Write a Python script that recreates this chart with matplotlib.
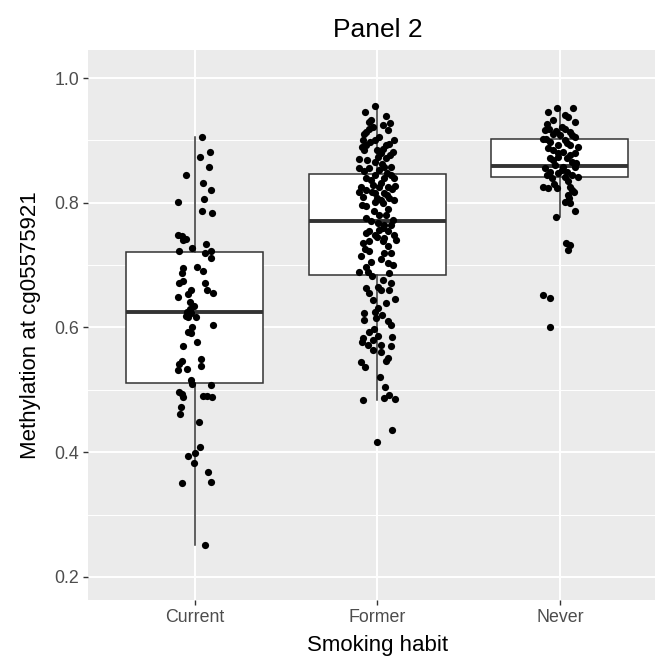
import numpy as np
import matplotlib.pyplot as plt

# smoking groups and their box summaries (methylation at cg05575921)
groups = ["Current", "Former", "Never"]
q1 = [0.511, 0.684, 0.842]
median = [0.625, 0.771, 0.859]
q3 = [0.721, 0.846, 0.902]
whis_lo = [0.251, 0.483, 0.777]
whis_hi = [0.905, 0.955, 0.952]

# individual samples: methylation values and horizontal jitter
current_y = [0.905, 0.882, 0.874, 0.858, 0.844, 0.831, 0.820, 0.806, 0.802, 0.787,
             0.784, 0.748, 0.746, 0.742, 0.740, 0.734, 0.727, 0.723, 0.723, 0.719,
             0.711, 0.695, 0.697, 0.690, 0.687, 0.672, 0.675, 0.671, 0.660, 0.660,
             0.654, 0.655, 0.649, 0.641, 0.635, 0.630, 0.625, 0.618, 0.616, 0.617,
             0.623, 0.604, 0.601, 0.593, 0.591, 0.571, 0.576, 0.547, 0.541, 0.549,
             0.539, 0.532, 0.534, 0.516, 0.509, 0.497, 0.493, 0.488, 0.507, 0.490,
             0.490, 0.489, 0.473, 0.461, 0.449, 0.409, 0.394, 0.398, 0.382, 0.368,
             0.351, 0.352, 0.251]
current_jit = [0.037, 0.080, 0.026, 0.077, -0.049, 0.042, 0.086, 0.049, -0.095, 0.037,
               0.095, -0.092, -0.073, -0.049, -0.064, 0.062, -0.015, -0.086, 0.088, 0.056,
               0.088, -0.067, 0.009, 0.045, -0.071, -0.089, -0.067, 0.053, 0.064, -0.024,
               -0.037, 0.100, -0.095, -0.029, -0.005, -0.027, -0.045, -0.051, -0.037, 0.005,
               -0.024, 0.097, -0.018, -0.037, -0.024, -0.067, 0.013, -0.073, -0.086, 0.033,
               0.035, -0.092, -0.042, -0.022, -0.018, -0.089, -0.073, -0.067, 0.086, 0.042,
               0.067, 0.092, -0.078, -0.081, 0.024, 0.027, -0.037, 0.002, -0.004, 0.070,
               -0.073, 0.088, 0.053]

former_y = [0.955, 0.945, 0.939, 0.933, 0.928,
            0.918, 0.913, 0.922, 0.901, 0.901, 0.893, 0.901, 0.895, 0.887, 0.882,
            0.885, 0.879, 0.870, 0.874, 0.871, 0.866, 0.856, 0.855, 0.858, 0.858,
            0.853, 0.844, 0.844, 0.839, 0.839, 0.839, 0.826, 0.828, 0.826, 0.826,
            0.827, 0.818, 0.820, 0.815, 0.810, 0.815, 0.804, 0.807, 0.802, 0.804,
            0.794, 0.799, 0.780, 0.781, 0.770, 0.767, 0.764, 0.764, 0.754, 0.756,
            0.754,
            0.751, 0.748, 0.743, 0.748, 0.735, 0.738, 0.738, 0.740, 0.722, 0.719,
            0.719, 0.714, 0.705, 0.703, 0.697, 0.689, 0.689, 0.687, 0.676, 0.663,
            0.665, 0.660, 0.660, 0.644, 0.645, 0.631, 0.623, 0.625, 0.612, 0.615,
            0.611, 0.604, 0.593, 0.583, 0.586, 0.585,
            0.577, 0.572, 0.580, 0.572, 0.571, 0.564, 0.560, 0.551, 0.546, 0.544,
            0.536, 0.520, 0.505, 0.492, 0.487, 0.486, 0.483, 0.436, 0.416,
            0.930, 0.925, 0.916, 0.910, 0.906, 0.897, 0.892, 0.889, 0.884, 0.877,
            0.868, 0.862, 0.851, 0.848, 0.836, 0.832, 0.822, 0.818, 0.812, 0.808,
            0.797, 0.790, 0.786, 0.775, 0.772, 0.760, 0.745, 0.731, 0.726, 0.710,
            0.700, 0.682, 0.671, 0.655, 0.640, 0.620, 0.598]
former_jit = [-0.016, -0.066, 0.049, -0.033, 0.071,
              -0.044, -0.062, -0.026, -0.081, -0.016, -0.062, 0.093, 0.066, 0.029, 0.084,
              -0.071, 0.020, -0.099, 0.002, 0.048, -0.016, -0.099, -0.044, 0.038, 0.075,
              0.011, -0.016, 0.075, -0.062, 0.038, 0.093, -0.089, -0.026, 0.011, 0.056,
              0.099, -0.099, -0.062, 0.038, -0.081, -0.016, 0.020, 0.066, -0.016, 0.093,
              -0.062, 0.029, 0.011, 0.048, -0.035, 0.002, 0.038, 0.075, -0.044, 0.011,
              0.056,
              -0.062, -0.016, 0.038, 0.093, -0.081, -0.044, 0.029, 0.102, -0.044, 0.038,
              0.075, -0.089, -0.035, 0.056, -0.062, -0.099, -0.053, 0.066, 0.029, -0.062,
              0.002, 0.020, 0.066, -0.026, 0.099, 0.002, -0.071, -0.016, -0.071, -0.007,
              0.056, 0.075, -0.044, -0.081, 0.002, 0.081,
              -0.084, -0.053, -0.022, 0.020, 0.075, -0.026, 0.020, 0.056, 0.048, -0.089,
              -0.066, 0.015, 0.040, 0.062, 0.038, 0.097, -0.081, 0.078, -0.005,
              -0.045, 0.030, 0.060, -0.075, 0.010, -0.040, 0.045, -0.085, 0.000, 0.070,
              -0.055, 0.025, -0.075, 0.050, -0.035, 0.020, 0.080, -0.030, 0.050, 0.000,
              -0.085, 0.060, -0.020, -0.060, 0.085, 0.030, -0.005, 0.060, -0.070, 0.020,
              0.085, -0.030, 0.075, -0.045, 0.045, 0.025, -0.020]

never_y = [0.952, 0.952, 0.945, 0.941, 0.933, 0.929,
           0.917, 0.919, 0.918, 0.913, 0.903, 0.911, 0.909, 0.906, 0.898, 0.901,
           0.890, 0.893, 0.893, 0.885, 0.882, 0.879, 0.871, 0.874, 0.871, 0.866,
           0.856, 0.861, 0.858, 0.858, 0.850, 0.847, 0.850, 0.844, 0.842, 0.839,
           0.842, 0.826, 0.826, 0.823, 0.824, 0.820, 0.812, 0.801, 0.799, 0.786,
           0.777, 0.735, 0.732, 0.724, 0.652, 0.648, 0.601,
           0.937, 0.926, 0.921, 0.915, 0.908, 0.902, 0.896, 0.888, 0.880, 0.876,
           0.868, 0.863, 0.853, 0.845, 0.835, 0.830, 0.818, 0.808]
never_jit = [-0.016, 0.071, -0.066, 0.027, -0.038, 0.082,
             -0.082, -0.059, 0.027, 0.055, -0.092, -0.037, 0.000, 0.082, -0.055, 0.027,
             0.100, -0.009, 0.055, -0.037, 0.018, 0.082, -0.055, -0.009, 0.037, 0.064,
             -0.082, -0.027, 0.018, 0.082, -0.055, -0.009, 0.037, 0.064, 0.100, -0.045,
             0.027, 0.055, -0.092, -0.064, -0.018, 0.064, 0.045, 0.027, 0.055, 0.082,
             -0.024, 0.031, 0.055, 0.045, -0.092, -0.055, -0.055,
             0.045, -0.070, 0.010, -0.020, 0.065, -0.075, 0.040, -0.065, -0.010, 0.055,
             -0.040, 0.090, 0.010, -0.070, 0.045, -0.030, 0.075, 0.050]

samples_y = [current_y, former_y, never_y]
samples_jit = [current_jit, former_jit, never_jit]

plt.rcParams['font.family'] = ['Liberation Sans', 'DejaVu Sans']

fig = plt.figure(figsize=(6.66, 6.61), dpi=100)
ax = fig.add_axes([0.1321, 0.0923, 0.8514, 0.8321])
ax.set_facecolor('#EBEBEB')
for s in ax.spines.values():
    s.set_visible(False)

positions = np.arange(1, len(groups) + 1)
stats = []
for i, g in enumerate(groups):
    stats.append({'label': g, 'q1': q1[i], 'med': median[i], 'q3': q3[i],
                  'whislo': whis_lo[i], 'whishi': whis_hi[i], 'fliers': []})

ax.bxp(stats, positions=positions, widths=0.75, patch_artist=True,
       showfliers=False, showcaps=False,
       boxprops=dict(facecolor='white', edgecolor='#333333', linewidth=1.1),
       medianprops=dict(color='#333333', linewidth=2.8, solid_capstyle='butt'),
       whiskerprops=dict(color='#333333', linewidth=1.1),
       zorder=2)

for i in range(len(groups)):
    xs = positions[i] + np.array(samples_jit[i])
    ax.scatter(xs, samples_y[i], s=27, color='black', linewidths=0, zorder=3)

ax.set_xlim(0.414, 3.521)
ax.set_ylim(0.163, 1.045)
ax.set_yticks([0.2, 0.4, 0.6, 0.8, 1.0])
ax.set_yticks([0.3, 0.5, 0.7, 0.9], minor=True)
ax.set_xticks(positions)
ax.set_xticklabels(groups)

ax.grid(which='major', color='white', linewidth=1.4, zorder=0)
ax.grid(which='minor', axis='y', color='white', linewidth=0.7, zorder=0)
ax.set_axisbelow(True)

ax.tick_params(axis='both', which='major', colors='#333333', length=3.5,
               width=1.0, labelsize=12.8, labelcolor='#4D4D4D', pad=3)
ax.tick_params(axis='y', which='minor', length=0)

ax.set_title('Panel 2', fontsize=19, pad=9, x=0.511)
ax.set_xlabel('Smoking habit', fontsize=16)
ax.xaxis.set_label_coords(0.511, -0.082)
ax.xaxis.label.set_va('center')
ax.set_ylabel('Methylation at cg05575921', fontsize=16)
ax.yaxis.set_label_coords(-0.102, 0.5)
ax.yaxis.label.set_va('center')

fig.savefig('out.png', dpi=100)
